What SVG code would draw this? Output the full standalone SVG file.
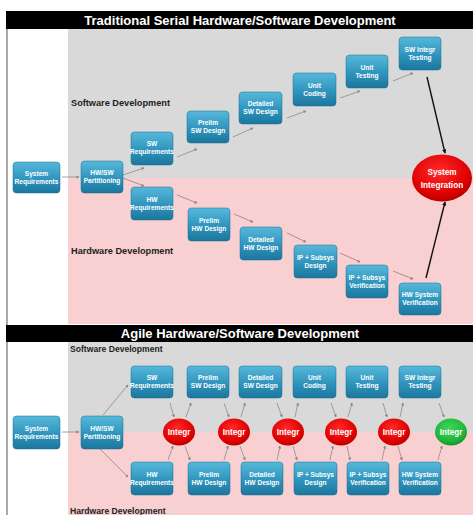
<svg xmlns="http://www.w3.org/2000/svg" width="473" height="515" viewBox="0 0 473 515">
<defs>
<linearGradient id="gBox" x1="0" y1="0" x2="0" y2="1">
<stop offset="0" stop-color="#56b8da"/>
<stop offset="0.55" stop-color="#2f94bd"/>
<stop offset="1" stop-color="#1c769d"/>
</linearGradient>
<radialGradient id="gRed" cx="0.45" cy="0.35" r="0.7">
<stop offset="0" stop-color="#ff2a2a"/>
<stop offset="0.7" stop-color="#e00000"/>
<stop offset="1" stop-color="#a80000"/>
</radialGradient>
<radialGradient id="gGreen" cx="0.45" cy="0.35" r="0.7">
<stop offset="0" stop-color="#3fd85a"/>
<stop offset="0.7" stop-color="#1fb53a"/>
<stop offset="1" stop-color="#138a28"/>
</radialGradient>
<marker id="ah" viewBox="0 0 6 6" refX="5" refY="3" markerWidth="4" markerHeight="4" orient="auto">
<path d="M0,0 L6,3 L0,6 z" fill="#8a8a8a"/>
</marker>
<marker id="ahr" viewBox="0 0 6 6" refX="5" refY="3" markerWidth="4" markerHeight="4" orient="auto">
<path d="M0,0 L6,3 L0,6 z" fill="#a07a7a"/>
</marker>
<marker id="ahb" viewBox="0 0 6 6" refX="5" refY="3" markerWidth="3" markerHeight="3" orient="auto">
<path d="M0,0 L6,3 L0,6 z" fill="#111"/>
</marker>
</defs>
<style>
.box{fill:url(#gBox);stroke:#1a6f93;stroke-width:0.5}
.bt{font-family:"Liberation Sans",Arial,sans-serif;font-weight:bold;font-size:6.6px;fill:#fff;text-anchor:middle}
.it{font-family:"Liberation Sans",Arial,sans-serif;font-weight:bold;font-size:8.2px;fill:#fff;text-anchor:middle}
.title{font-family:"Liberation Sans",Arial,sans-serif;font-weight:bold;font-size:13px;fill:#fff;text-anchor:middle}
.lab{font-family:"Liberation Sans",Arial,sans-serif;font-weight:bold;fill:#222}
.a{stroke:#8a8a8a;stroke-width:0.8;fill:none;marker-end:url(#ah)}
.ar{stroke:#a07a7a;stroke-width:0.8;fill:none;marker-end:url(#ahr)}
.ab{stroke:#111;stroke-width:1.4;fill:none;marker-end:url(#ahb)}
</style>
<rect x="0" y="0" width="473" height="515" fill="#fff"/>
<!-- backgrounds -->
<rect x="68" y="29" width="405" height="149" fill="#d9d9d9"/>
<rect x="68" y="178" width="405" height="146" fill="#f9d0d1"/>
<rect x="68" y="342" width="405" height="90" fill="#d9d9d9"/>
<rect x="68" y="432" width="405" height="83" fill="#f9d0d1"/>
<line x1="7" y1="11" x2="7" y2="515" stroke="#555" stroke-width="1"/>
<rect x="6" y="11" width="467" height="18" fill="#000"/>
<text class="title" x="240" y="24.5">Traditional Serial Hardware/Software Development</text>
<rect x="6" y="325" width="467" height="17" fill="#000"/>
<text class="title" x="240" y="338">Agile Hardware/Software Development</text>
<text class="lab" x="71" y="106" font-size="9.2">Software Development</text>
<text class="lab" x="71" y="254" font-size="9.2">Hardware Development</text>
<text class="lab" x="70" y="352" font-size="8.6">Software Development</text>
<text class="lab" x="70" y="514" font-size="8.6">Hardware Development</text>

<g id="connectors">
<line class="a" x1="62" y1="177" x2="79" y2="177"/>
<line class="a" x1="123" y1="175" x2="144" y2="168"/>
<line class="ar" x1="123" y1="178" x2="144" y2="186"/>
<line class="a" x1="177" y1="157" x2="197" y2="149"/>
<line class="a" x1="233" y1="137" x2="253" y2="128"/>
<line class="a" x1="287" y1="118" x2="306" y2="111"/>
<line class="a" x1="340" y1="98" x2="360" y2="91"/>
<line class="a" x1="393" y1="81" x2="413" y2="73"/>
<line class="ar" x1="177" y1="195" x2="197" y2="203"/>
<line class="ar" x1="234" y1="214" x2="253" y2="222"/>
<line class="ar" x1="287" y1="233" x2="306" y2="242"/>
<line class="ar" x1="340" y1="253" x2="360" y2="262"/>
<line class="ar" x1="393" y1="271" x2="413" y2="279"/>
<line class="ab" x1="427" y1="77" x2="445" y2="153"/>
<line class="ab" x1="426" y1="278" x2="445" y2="202"/>

<line class="a" x1="62" y1="432" x2="79" y2="432"/>
<line class="a" x1="103" y1="415" x2="128" y2="385"/>
<line class="a" x1="100" y1="449" x2="128" y2="477"/>
<!-- SW side -->
<line class="a" x1="170" y1="403" x2="174" y2="417"/>
<line class="a" x1="186" y1="417" x2="191" y2="403"/>
<line class="a" x1="224" y1="403" x2="229" y2="417"/>
<line class="a" x1="241" y1="417" x2="245" y2="403"/>
<line class="a" x1="277" y1="403" x2="282" y2="417"/>
<line class="a" x1="295" y1="417" x2="298" y2="403"/>
<line class="a" x1="331" y1="403" x2="336" y2="417"/>
<line class="a" x1="348" y1="417" x2="352" y2="403"/>
<line class="a" x1="383" y1="403" x2="387" y2="417"/>
<line class="a" x1="400" y1="417" x2="403" y2="403"/>
<line class="a" x1="439" y1="403" x2="444" y2="417"/>
<!-- HW side -->
<line class="a" x1="168" y1="460" x2="173" y2="446"/>
<line class="a" x1="185" y1="446" x2="190" y2="460"/>
<line class="a" x1="224" y1="460" x2="228" y2="446"/>
<line class="a" x1="240" y1="446" x2="245" y2="460"/>
<line class="a" x1="277" y1="460" x2="280" y2="446"/>
<line class="a" x1="293" y1="446" x2="297" y2="460"/>
<line class="a" x1="330" y1="460" x2="333" y2="446"/>
<line class="a" x1="347" y1="446" x2="350" y2="460"/>
<line class="a" x1="382" y1="460" x2="385" y2="446"/>
<line class="a" x1="398" y1="446" x2="402" y2="460"/>
<line class="a" x1="438" y1="460" x2="442" y2="446"/>
</g>

<!-- Traditional nodes -->
<g id="t-sysreq"><rect class="box" x="13" y="162" width="47" height="31" rx="3.5"/><text class="bt" x="36.5" y="176">System</text><text class="bt" x="36.5" y="184">Requirements</text></g>
<g id="t-hwsw"><rect class="box" x="81" y="161" width="42" height="32" rx="3.5"/><text class="bt" x="102" y="175">HW/SW</text><text class="bt" x="102" y="183">Partitioning</text></g>
<g id="t-swreq"><rect class="box" x="131" y="132" width="42" height="33" rx="3.5"/><text class="bt" x="152" y="146">SW</text><text class="bt" x="152" y="154">Requirements</text></g>
<g id="t-prelimsw"><rect class="box" x="187" y="111" width="42" height="32" rx="3.5"/><text class="bt" x="208" y="125">Prelim</text><text class="bt" x="208" y="133">SW Design</text></g>
<g id="t-detsw"><rect class="box" x="239" y="92" width="43" height="32" rx="3.5"/><text class="bt" x="260.5" y="106">Detailed</text><text class="bt" x="260.5" y="114">SW Design</text></g>
<g id="t-unitcod"><rect class="box" x="293" y="73" width="43" height="33" rx="3.5"/><text class="bt" x="314.5" y="87.5">Unit</text><text class="bt" x="314.5" y="95.5">Coding</text></g>
<g id="t-unittest"><rect class="box" x="346" y="55" width="42" height="33" rx="3.5"/><text class="bt" x="367" y="69.5">Unit</text><text class="bt" x="367" y="77.5">Testing</text></g>
<g id="t-swint"><rect class="box" x="399" y="37" width="42" height="33" rx="3.5"/><text class="bt" x="420" y="51.5">SW Integr</text><text class="bt" x="420" y="59.5">Testing</text></g>
<g id="t-hwreq"><rect class="box" x="131" y="187" width="42" height="33" rx="3.5"/><text class="bt" x="152" y="201.5">HW</text><text class="bt" x="152" y="209.5">Requirements</text></g>
<g id="t-prelimhw"><rect class="box" x="188" y="208" width="42" height="33" rx="3.5"/><text class="bt" x="209" y="222.5">Prelim</text><text class="bt" x="209" y="230.5">HW Design</text></g>
<g id="t-dethw"><rect class="box" x="240" y="227" width="42" height="33" rx="3.5"/><text class="bt" x="261" y="241.5">Detailed</text><text class="bt" x="261" y="249.5">HW Design</text></g>
<g id="t-ipdes"><rect class="box" x="294" y="245" width="43" height="33" rx="3.5"/><text class="bt" x="315.5" y="259.5">IP + Subsys</text><text class="bt" x="315.5" y="267.5">Design</text></g>
<g id="t-ipver"><rect class="box" x="346" y="265" width="42" height="33" rx="3.5"/><text class="bt" x="367" y="279.5">IP + Subsys</text><text class="bt" x="367" y="287.5">Verification</text></g>
<g id="t-hwsysver"><rect class="box" x="399" y="283" width="42" height="32" rx="3.5"/><text class="bt" x="420" y="297">HW System</text><text class="bt" x="420" y="305">Verification</text></g>
<g id="t-sysint"><ellipse cx="442" cy="178" rx="30" ry="23.5" fill="url(#gRed)"/><text class="it" x="442" y="175" font-size="11.5">System</text><text class="it" x="442" y="188" font-size="11.5">Integration</text></g>

<!-- Agile nodes -->
<g id="a-sysreq"><rect class="box" x="13" y="416" width="47" height="33" rx="3.5"/><text class="bt" x="36.5" y="431">System</text><text class="bt" x="36.5" y="439">Requirements</text></g>
<g id="a-hwsw"><rect class="box" x="81" y="416" width="42" height="33" rx="3.5"/><text class="bt" x="102" y="431">HW/SW</text><text class="bt" x="102" y="439">Partitioning</text></g>
<g id="a-swreq"><rect class="box" x="131" y="366" width="42" height="32" rx="3.5"/><text class="bt" x="152" y="380">SW</text><text class="bt" x="152" y="388">Requirements</text></g>
<g id="a-prelimsw"><rect class="box" x="187" y="366" width="42" height="32" rx="3.5"/><text class="bt" x="208" y="380">Prelim</text><text class="bt" x="208" y="388">SW Design</text></g>
<g id="a-detsw"><rect class="box" x="239" y="366" width="43" height="32" rx="3.5"/><text class="bt" x="260.5" y="380">Detailed</text><text class="bt" x="260.5" y="388">SW Design</text></g>
<g id="a-unitcod"><rect class="box" x="293" y="366" width="43" height="32" rx="3.5"/><text class="bt" x="314.5" y="380">Unit</text><text class="bt" x="314.5" y="388">Coding</text></g>
<g id="a-unittest"><rect class="box" x="346" y="366" width="42" height="32" rx="3.5"/><text class="bt" x="367" y="380">Unit</text><text class="bt" x="367" y="388">Testing</text></g>
<g id="a-swint"><rect class="box" x="399" y="366" width="42" height="32" rx="3.5"/><text class="bt" x="420" y="380">SW Integr</text><text class="bt" x="420" y="388">Testing</text></g>
<g id="a-hwreq"><rect class="box" x="131" y="462" width="42" height="33" rx="3.5"/><text class="bt" x="152" y="476.5">HW</text><text class="bt" x="152" y="484.5">Requirements</text></g>
<g id="a-prelimhw"><rect class="box" x="188" y="462" width="42" height="33" rx="3.5"/><text class="bt" x="209" y="476.5">Prelim</text><text class="bt" x="209" y="484.5">HW Design</text></g>
<g id="a-dethw"><rect class="box" x="241" y="462" width="42" height="33" rx="3.5"/><text class="bt" x="262" y="476.5">Detailed</text><text class="bt" x="262" y="484.5">HW Design</text></g>
<g id="a-ipdes"><rect class="box" x="294" y="462" width="43" height="33" rx="3.5"/><text class="bt" x="315.5" y="476.5">IP + Subsys</text><text class="bt" x="315.5" y="484.5">Design</text></g>
<g id="a-ipver"><rect class="box" x="347" y="462" width="42" height="33" rx="3.5"/><text class="bt" x="368" y="476.5">IP + Subsys</text><text class="bt" x="368" y="484.5">Verification</text></g>
<g id="a-hwsysver"><rect class="box" x="399" y="462" width="42" height="33" rx="3.5"/><text class="bt" x="420" y="476.5">HW System</text><text class="bt" x="420" y="484.5">Verification</text></g>
<g id="a-int1"><ellipse cx="179" cy="432" rx="16" ry="13.5" fill="url(#gRed)"/><text class="it" x="179" y="435">Integr</text></g>
<g id="a-int2"><ellipse cx="234" cy="432" rx="16" ry="13.5" fill="url(#gRed)"/><text class="it" x="234" y="435">Integr</text></g>
<g id="a-int3"><ellipse cx="288" cy="432" rx="16" ry="13.5" fill="url(#gRed)"/><text class="it" x="288" y="435">Integr</text></g>
<g id="a-int4"><ellipse cx="341" cy="432" rx="16" ry="13.5" fill="url(#gRed)"/><text class="it" x="341" y="435">Integr</text></g>
<g id="a-int5"><ellipse cx="394" cy="432" rx="16" ry="13.5" fill="url(#gRed)"/><text class="it" x="394" y="435">Integr</text></g>
<g id="a-int6"><ellipse cx="451" cy="432" rx="16" ry="13.5" fill="url(#gGreen)"/><text class="it" x="451" y="435">Integr</text></g>
</svg>
